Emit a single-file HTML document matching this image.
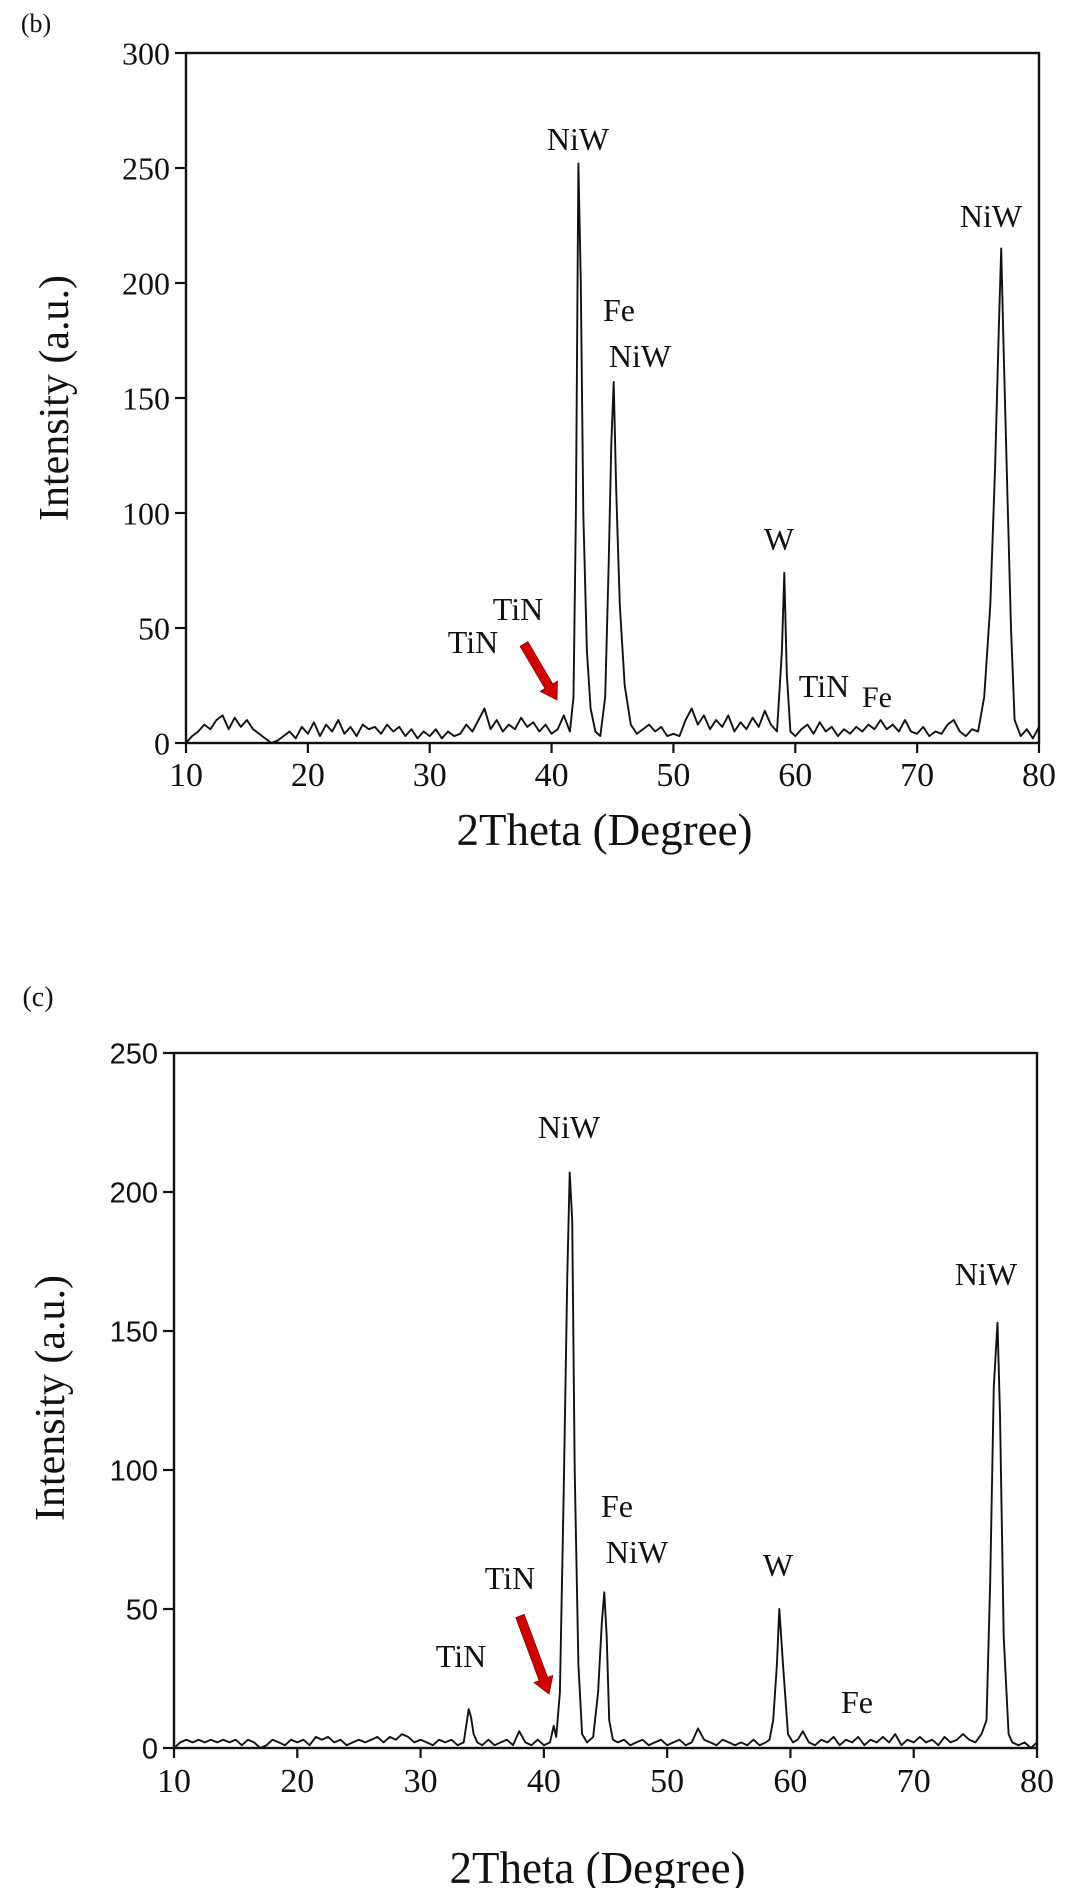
<!DOCTYPE html>
<html><head><meta charset="utf-8">
<style>
html,body{margin:0;padding:0;background:#fff;width:1082px;height:1888px;overflow:hidden}
svg text{font-family:"Liberation Serif",serif;fill:#111}
.sans{font-family:"Liberation Sans",sans-serif}
</style></head>
<body>
<svg id="svg" width="1082" height="1888" viewBox="0 0 1082 1888">
</svg>
<script>
// ---- data panel (b) ----
const bX = [10,10.5,11,11.5,12,12.5,13,13.5,14,14.5,15,15.5,16,16.5,17,17.5,18,18.5,19,19.5,20,20.5,21,21.5,22,22.5,23,23.5,24,24.5,25,25.5,26,26.5,27,27.5,28,28.5,29,29.5,30,30.5,31,31.5,32,32.5,33,33.5,34,34.5,35,35.5,36,36.5,37,37.5,38,38.5,39,39.5,40,40.5,41,41.5,41.8,42,42.2,42.4,42.6,42.9,43.2,43.6,44,44.4,44.7,44.9,45.1,45.3,45.6,46,46.5,47,47.5,48,48.5,49,49.5,50,50.5,51,51.5,52,52.5,53,53.5,54,54.5,55,55.5,56,56.5,57,57.5,58,58.5,58.9,59.1,59.3,59.6,60,60.5,61,61.5,62,62.5,63,63.5,64,64.5,65,65.5,66,66.5,67,67.5,68,68.5,69,69.5,70,70.5,71,71.5,72,72.5,73,73.5,74,74.5,75,75.5,76,76.4,76.7,76.9,77.1,77.4,77.7,78,78.5,79,79.5,80];
const bY = [0,3,5,8,6,10,12,6,11,7,10,6,4,2,0,1,3,5,2,7,4,9,3,8,5,10,4,7,3,8,6,7,4,8,5,7,3,6,2,5,3,6,2,5,3,4,8,5,10,15,6,10,5,8,6,11,7,9,5,8,4,6,12,5,20,100,252,200,100,40,15,5,3,20,80,130,157,110,60,25,8,4,6,8,5,7,3,4,3,10,15,8,12,6,10,7,12,5,9,6,11,7,14,8,5,40,74,30,5,3,6,8,4,9,5,7,3,6,4,7,5,8,6,10,6,8,5,10,5,4,7,3,5,4,8,10,5,3,6,5,20,60,120,180,215,170,110,50,10,3,6,2,7];
const bYTicks = [0,50,100,150,200,250,300];
const bXTicks = [10,20,30,40,50,60,70,80];
// ---- data panel (c) ----
const cX = [10,10.5,11,11.5,12,12.5,13,13.5,14,14.5,15,15.5,16,16.5,17,17.5,18,18.5,19,19.5,20,20.5,21,21.5,22,22.5,23,23.5,24,24.5,25,25.5,26,26.5,27,27.5,28,28.5,29,29.5,30,30.5,31,31.5,32,32.5,33,33.5,33.9,34.1,34.3,34.6,35,35.5,36,36.5,37,37.5,38,38.5,39,39.5,40,40.5,40.8,41,41.3,41.6,41.9,42.1,42.3,42.5,42.8,43.1,43.5,44,44.4,44.7,44.9,45.1,45.3,45.6,46,46.5,47,47.5,48,48.5,49,49.5,50,50.5,51,51.5,52,52.5,53,53.5,54,54.5,55,55.5,56,56.5,57,57.5,58,58.3,58.6,58.9,59.1,59.4,59.8,60.2,60.6,61,61.5,62,62.5,63,63.5,64,64.5,65,65.5,66,66.5,67,67.5,68,68.5,69,69.5,70,70.5,71,71.5,72,72.5,73,73.5,74,74.5,75,75.5,75.9,76.2,76.5,76.8,77,77.3,77.7,78,78.5,79,79.5,80];
const cY = [0,2,3,2,3,2,3,2,3,2,3,1,3,2,0,1,3,2,1,3,2,3,1,4,3,4,2,3,1,2,3,2,3,4,2,4,3,5,4,2,3,2,1,3,2,3,1,2,14,11,5,2,1,3,1,2,3,1,6,2,1,3,1,2,8,4,20,90,170,207,190,100,30,5,2,4,20,45,56,40,10,3,2,3,1,2,3,1,2,3,1,2,3,1,2,7,3,2,1,3,2,1,2,1,3,1,2,3,10,30,50,30,5,2,3,6,2,1,3,2,4,1,3,2,4,1,3,2,4,2,5,1,3,2,4,2,3,1,4,2,3,5,3,2,5,10,60,130,153,120,40,5,2,1,2,0,2];
const cYTicks = [0,50,100,150,200,250];
const cXTicks = [10,20,30,40,50,60,70,80];

const NS = "http://www.w3.org/2000/svg";
const svg = document.getElementById('svg');
function mk(tag, attrs, parent){
  const e = document.createElementNS(NS, tag);
  for (const k in attrs) e.setAttribute(k, attrs[k]);
  (parent||svg).appendChild(e);
  return e;
}
function txt(s, x, y, size, anchor, cls, name, parent){
  const t = mk('text', {x:x, y:y, 'font-size':size, 'text-anchor':anchor||'middle'}, parent);
  if (cls) t.setAttribute('class', cls);
  t.textContent = s;
  
  
  return t;
}

function drawPanel(opt){
  const g = mk('g', {});
  
  
  const L=opt.left, R=opt.right, T=opt.top, B=opt.bottom;
  const sx = v => L + (v - 10) / 70 * (R - L);
  const sy = v => B - v / opt.ymax * (B - T);
  const fr = mk('rect', {x:L, y:T, width:R-L, height:B-T, fill:'none', stroke:'#111', 'stroke-width':2.4}, g);
  
  
  opt.yTicks.forEach(v => {
    const l = mk('line', {x1:L-11, x2:L, y1:sy(v), y2:sy(v), stroke:'#111', 'stroke-width':2.2}, g);
    
    
    txt(String(v), L-16, sy(v)+opt.yFont*0.36, opt.yFont, 'end', opt.yCls, 'y-tick-label', g);
  });
  opt.xTicks.forEach(v => {
    const l = mk('line', {x1:sx(v), x2:sx(v), y1:B, y2:B+10, stroke:'#111', 'stroke-width':2.2}, g);
    
    
    txt(String(v), sx(v), B+opt.xLabelDy, 34, 'middle', null, 'x-tick-label', g);
  });
  let d = '';
  opt.xs.forEach((x,i) => { d += (i?'L':'M') + sx(x).toFixed(1) + ',' + sy(opt.ys[i]).toFixed(1); });
  const p = mk('path', {d:d, fill:'none', stroke:'#111', 'stroke-width':1.9, 'stroke-linejoin':'round'}, g);
  
  
  txt('2Theta (Degree)', (L+R)/2 - 8, opt.xTitleY, 45, 'middle', null, 'x-axis-title', g);
  const yt = txt('Intensity (a.u.)', 0, 0, 42, 'middle', null, 'y-axis-title', g);
  yt.setAttribute('transform', 'translate(' + opt.yTitleX + ',' + opt.yTitleY + ') rotate(-90)');
  return g;
}

drawPanel({name:'panel-b', left:186, right:1039, top:53, bottom:743, ymax:300,
  xs:bX, ys:bY, yTicks:bYTicks, xTicks:bXTicks, yFont:32, yCls:null, xLabelDy:43,
  xTitleY:845, yTitleX:68, yTitleY:398});
drawPanel({name:'panel-c', left:174, right:1037, top:1053, bottom:1748, ymax:250,
  xs:cX, ys:cY, yTicks:cYTicks, xTicks:cXTicks, yFont:29, yCls:'sans', xLabelDy:44,
  xTitleY:1883, yTitleX:64, yTitleY:1398});

txt('(b)', 36, 32, 26, 'middle', null, 'panel-label-b');
txt('(c)', 38, 1006, 28, 'middle', null, 'panel-label-c');

// peak annotations (b)
txt('NiW', 578, 150, 32, 'middle', null, 'peak-label-niw');
txt('Fe', 619, 321, 32, 'middle', null, 'peak-label-fe');
txt('NiW', 640, 367, 32, 'middle', null, 'peak-label-niw');
txt('W', 779, 550, 32, 'middle', null, 'peak-label-w');
txt('NiW', 991, 227, 32, 'middle', null, 'peak-label-niw');
txt('TiN', 518, 620, 32, 'middle', null, 'peak-label-tin');
txt('TiN', 473, 653, 32, 'middle', null, 'peak-label-tin');
txt('TiN', 824, 697, 32, 'middle', null, 'peak-label-tin');
txt('Fe', 877, 707, 30, 'middle', null, 'peak-label-fe');
// peak annotations (c)
txt('NiW', 569, 1138, 32, 'middle', null, 'peak-label-niw');
txt('NiW', 986, 1285, 32, 'middle', null, 'peak-label-niw');
txt('Fe', 617, 1517, 32, 'middle', null, 'peak-label-fe');
txt('NiW', 637, 1563, 32, 'middle', null, 'peak-label-niw');
txt('W', 778, 1576, 32, 'middle', null, 'peak-label-w');
txt('TiN', 510, 1589, 32, 'middle', null, 'peak-label-tin');
txt('TiN', 461, 1667, 32, 'middle', null, 'peak-label-tin');
txt('Fe', 857, 1713, 32, 'middle', null, 'peak-label-fe');

function arrow(x1,y1,x2,y2,name){
  const ang = Math.atan2(y2-y1, x2-x1);
  const len = Math.hypot(x2-x1, y2-y1);
  const g = mk('g', {transform:'translate('+x1+','+y1+') rotate('+(ang*180/Math.PI)+')'});
  
  
  mk('polygon', {points:'0,-4.5 '+(len-16)+',-4.5 '+(len-16)+',-10 '+len+',0 '+(len-16)+',10 '+(len-16)+',4.5 0,4.5', fill:'#d00000', stroke:'#800', 'stroke-width':0.8}, g);
}
arrow(524, 644, 557, 700, 'tin-arrow-b');
arrow(520, 1616, 549, 1694, 'tin-arrow-c');
</script>
</body></html>
